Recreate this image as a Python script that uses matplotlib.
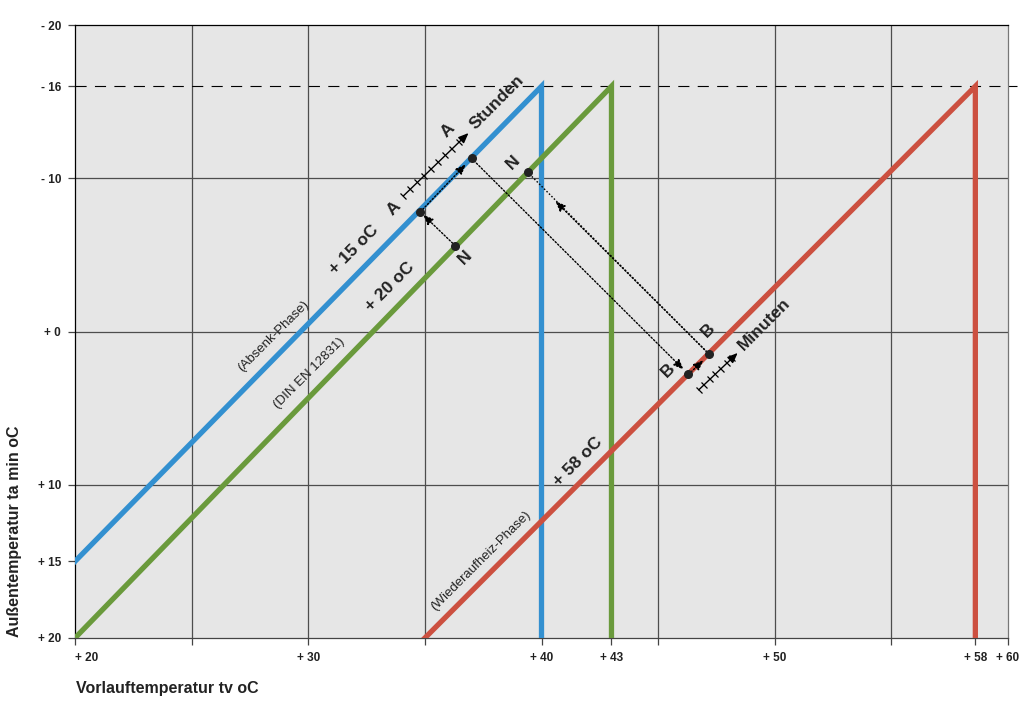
import numpy as np
import matplotlib.pyplot as plt
from matplotlib.markers import MarkerStyle
from matplotlib.transforms import Affine2D

plt.rcParams['font.family'] = ['Liberation Sans', 'DejaVu Sans']

# Kennlinien (Vorlauftemperatur x, Aussentemperatur y)
blau_x = [20, 40, 40]
blau_y = [15, -16, 20]
gruen_x = [20, 43, 43]
gruen_y = [20, -16, 20]
rot_x = [35, 58.6, 58.6]
rot_y = [20, -16, 20]

x_ticks = [20, 25, 30, 35, 40, 43, 45, 50, 55, 58.6, 60]
x_labels = ['+ 20', '', '+ 30', '', '+ 40', '+ 43', '', '+ 50', '', '+ 58', '+ 60']
y_ticks = [-20, -16, -10, 0, 10, 15, 20]
y_labels = ['- 20', '- 16', '- 10', '+ 0', '+ 10', '+ 15', '+ 20']

# Punkte A, N, B auf den Kennlinien
A1 = (34.8, -7.8)
A2 = (37.0, -11.3)
N1 = (36.3, -5.6)
N2 = (39.4, -10.4)
B1 = (46.3, 2.8)
B2 = (47.2, 1.5)
pfeil_N2 = (40.6, -8.5)   # Pfeilspitze auf dem Weg B -> N

# Zeitskalen (Stunden / Minuten)
skala_std = [(34.08, -8.85), (36.87, -12.95)]
skala_min = [(46.74, 3.81), (48.41, 1.40)]

blau = '#3390d0'
gruen = '#6a9a3c'
rot = '#cc5040'

fig = plt.figure(figsize=(10.24, 7.08), dpi=100)
ax = fig.add_axes([75/1024, 1-638/708, (1008-75)/1024, (638-25)/708])
ax.set_facecolor('#e6e6e6')
ax.set_xlim(20, 60)
ax.set_ylim(20, -20)

# Raster
for xv in [25, 30, 35, 45, 50, 55]:
    ax.axvline(xv, color='#4d4d4d', lw=0.9, zorder=1)
for yv in [-10, 0, 10]:
    ax.axhline(yv, color='#4d4d4d', lw=0.9, zorder=1)
ax.plot([20, 60.4], [-16, -16], color='k', lw=0.8, dashes=(10, 7.5),
        clip_on=False, zorder=1)

ax.plot(blau_x, blau_y, color=blau, lw=3.8, solid_joinstyle='miter', zorder=3)
ax.plot(gruen_x, gruen_y, color=gruen, lw=3.8, solid_joinstyle='miter', zorder=3)
ax.plot(rot_x, rot_y, color=rot, lw=3.8, solid_joinstyle='miter', zorder=3)

# gepunktete Pfeile
punktiert = (0, (1.1, 1.4))
def pfeil(start, ziel, shrink):
    ax.annotate('', xy=ziel, xytext=start, zorder=5,
                arrowprops=dict(arrowstyle='-|>,head_length=0.6,head_width=0.25',
                                color='k', lw=1.0, linestyle=punktiert,
                                shrinkA=0, shrinkB=shrink))

pfeil(N1, A1, 3)
pfeil(A1, A2, 6)
pfeil(A2, B1, 5)
pfeil(B1, B2, 6)
ax.plot([B2[0], N2[0]], [B2[1], N2[1]], color='k', lw=1.0, ls=punktiert, zorder=5)
pfeil(B2, pfeil_N2, 0)

pts = [A1, A2, N1, N2, B1, B2]
ax.scatter([p[0] for p in pts], [p[1] for p in pts], s=30, color='#222222', zorder=6)

# Skalen mit Teilstrichen
strich = MarkerStyle('|', transform=Affine2D().rotate_deg(45))
for skala, n in [(skala_std, 9), (skala_min, 7)]:
    (x0, y0), (x1, y1) = skala
    ax.annotate('', xy=(x1, y1), xytext=(x0, y0), zorder=5,
                arrowprops=dict(arrowstyle='-|>,head_length=0.6,head_width=0.25',
                                color='k', lw=1.0, shrinkA=0, shrinkB=0))
    t = np.linspace(0, 0.86, n)
    ax.plot(x0 + t*(x1-x0), y0 + t*(y1-y0), ls='none', marker=strich,
            ms=6, mew=0.9, color='k', zorder=5)

# Beschriftungen
bold = dict(fontsize=12.5, fontweight='bold', color='#222222', rotation=45,
            ha='center', va='center', rotation_mode='anchor', zorder=7)
norm = dict(fontsize=9.5, color='#222222', rotation=45,
            ha='center', va='center', rotation_mode='anchor', zorder=7)
ax.text(38.09, -14.98, 'Stunden', **bold)
ax.text(35.99, -13.15, 'A', **bold)
ax.text(33.68, -8.06, 'A', **bold)
ax.text(38.78, -11.06, 'N', **bold)
ax.text(36.72, -4.86, 'N', **bold)
ax.text(31.96, -5.32, '+ 15 oC', **bold)
ax.text(33.50, -2.90, '+ 20 oC', **bold)
ax.text(41.57, 8.52, '+ 58 oC', **bold)
ax.text(45.42, 2.51, 'B', **bold)
ax.text(47.14, -0.10, 'B', **bold)
ax.text(49.54, -0.49, 'Minuten', **bold)
ax.text(28.49, 0.29, '(Absenk-Phase)', **norm)
ax.text(30.03, 2.71, '(DIN EN 12831)', **norm)
ax.text(37.41, 14.98, '(Wiederaufheiz-Phase)', **norm)

# Achsen
ax.set_xticks(x_ticks)
ax.set_xticklabels(x_labels)
ax.set_yticks(y_ticks)
ax.set_yticklabels(y_labels)
ax.tick_params(axis='both', direction='out', length=5, width=0.9,
               color='#444444', labelsize=8.5, pad=5)
for lab in ax.get_xticklabels() + ax.get_yticklabels():
    lab.set_fontweight('bold')
    lab.set_color('#222222')
ax.get_xticklabels()[0].set_horizontalalignment('left')

ax.spines['left'].set_color('k')
ax.spines['top'].set_color('k')
ax.spines['bottom'].set_color('#444444')
ax.spines['right'].set_color('#777777')
for s in ax.spines.values():
    s.set_linewidth(0.9)

fig.text(76/1024, 1-688/708, 'Vorlauftemperatur tv oC', fontsize=11.5,
         fontweight='bold', color='#222222', ha='left', va='center')
fig.text(15/1024, 1-637/708, 'Außentemperatur ta min oC', fontsize=11.5,
         fontweight='bold', color='#222222', rotation=90, ha='center', va='bottom')

fig.savefig('out.png', dpi=100)
